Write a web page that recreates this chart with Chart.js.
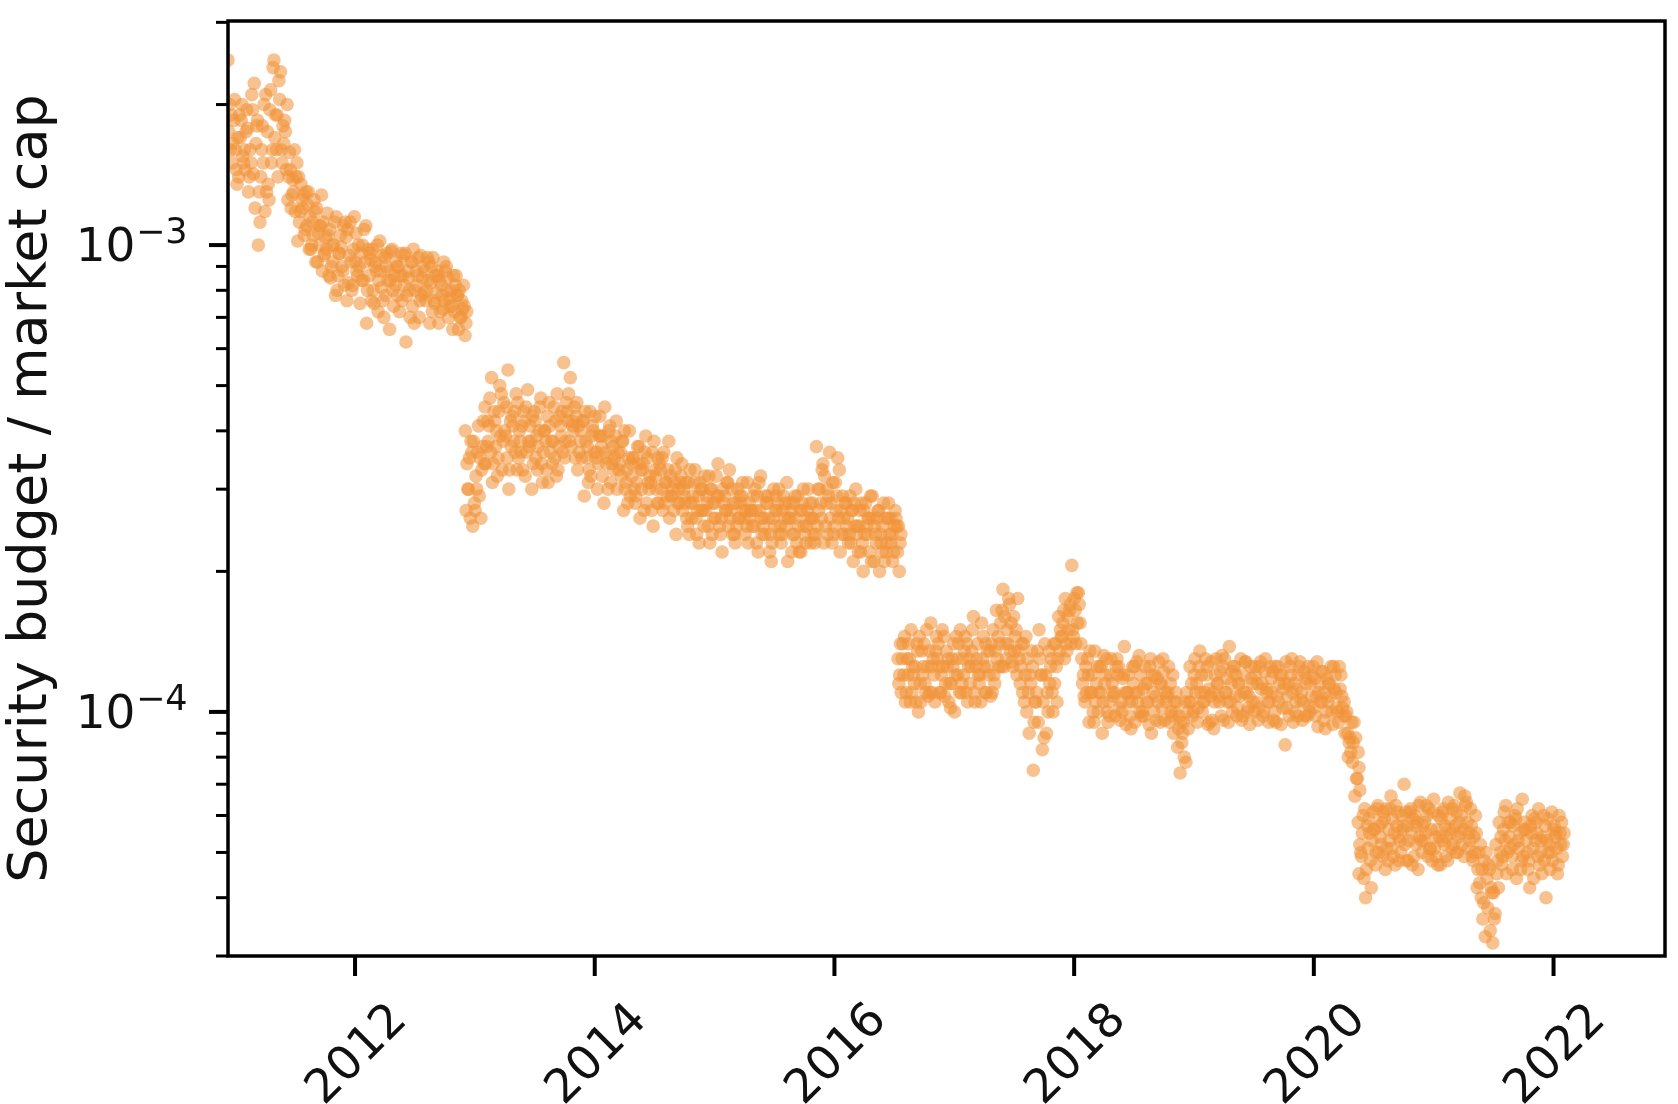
<!DOCTYPE html>
<html>
<head>
<meta charset="utf-8">
<script src="https://cdn.jsdelivr.net/npm/chart.js@4.4.1/dist/chart.umd.min.js"></script>
<style>
  html, body { margin: 0; padding: 0; background: #fff; }
  #wrap { width: 1678px; height: 1104px; position: relative; }
</style>
</head>
<body>
<div id="wrap"><canvas id="budgetChart"></canvas></div>
<script>
const eraStart = [2010.94, 2012.92, 2016.53, 2020.37];
const stepYears = 10 / 365.25;

// security budget / market cap, in units of 1e-5 (four readings per date)
const era1A = [249,190,205,170,185,160,178,150,222,185,140,200,175,215,249,190,235,165,200,145,130,150,118,128,110,115,105,120,100,112,98,108,92,115,96,88,104,95,82,106,90,100,110,86,98,92,84,95,78,88,98,82,90,76,96,85,92,80,94,78,88,84,90,75,86,82,76,85,80,72,78,70,74];
const era1B = [175,150,160,140,200,145,130,210,120,100,160,118,135,150,170,140,160,185,125,120,160,102,135,105,122,98,125,92,110,95,117,85,100,80,105,110,76,112,98,88,75,84,68,96,80,88,102,76,90,66,80,92,72,86,62,80,74,88,70,85,76,92,72,86,68,78,88,70,74,82,66,76,64];
const era1C = [200,165,145,190,155,175,140,195,165,130,180,210,125,160,190,225,150,175,140,128,118,140,125,108,130,100,118,106,128,96,105,90,112,86,99,82,108,92,115,86,96,108,80,93,75,100,88,70,96,84,74,90,86,95,78,70,98,82,76,90,80,68,94,79,84,73,90,77,66,86,80,73,68];
const era1D = [160,185,135,170,150,195,160,142,180,112,150,130,195,240,160,205,180,145,158,138,140,112,120,130,98,112,92,110,88,104,86,100,78,96,90,112,83,80,92,100,84,92,98,76,90,72,81,94,84,97,86,78,96,82,88,92,68,86,95,79,94,83,76,88,72,92,80,74,86,78,70,82,72];

const era2A = [40,30,36,27,41,33,
  45,38,52,42,35,48,40,54,37,44,
  46,36,42,49,38,44,33,47,40,43,36,45,48,41,
  56,44,52,40,
  46,38,42,35,44,40,36,43,39,34,41,37,
  42,34,38,31,40,35,29,37,33,39,30,36,32,28,35,31,38,29,33,30,
  34,28,31,26,33,29,27,32,25,30,28,34,26,29,31,27,24,30,28,26,
  31,27,25,29,32,26,28,24,30,27,25,29,31,26,28,23,27,30,25,28,26,
  37,30,34,28,36,31,27,33,29,
  28,24,27,30,25,23,28,26,29,24,27,22,26,28,24,27,25];
const era2B = [27,35,25,32,29,37,
  34,41,31,37,44,33,39,30,43,36,
  35,41,32,38,30,42,37,34,40,31,38,35,33,39,
  35,42,37,45,
  33,40,29,37,32,36,30,39,28,35,31,33,
  30,36,27,33,29,35,31,26,34,28,32,25,30,34,27,31,26,30,24,28,
  27,31,24,29,26,23,30,27,32,24,26,29,22,27,25,30,23,26,29,24,
  23,27,30,22,26,24,29,21,25,28,23,26,21,27,24,29,22,25,27,23,24,
  25,28,23,30,26,24,29,22,26,
  25,29,21,24,27,20,25,22,26,23,20,25,22,24,21,26,20];
const era2C = [34,26,38,30,35,42,
  37,47,34,40,50,38,45,33,41,48,
  40,33,45,37,43,35,40,31,38,46,34,42,37,44,
  38,48,42,35,
  41,35,44,31,39,43,34,37,45,30,38,35,
  36,32,40,28,34,30,37,33,27,35,31,38,28,33,36,29,32,27,35,31,
  30,26,33,28,24,31,27,29,23,28,32,25,30,27,33,24,28,26,31,27,
  28,25,27,31,24,29,26,23,27,30,24,28,26,22,29,25,27,24,30,26,23,
  30,26,32,24,28,25,35,27,24,
  26,23,28,25,22,27,24,29,21,26,24,28,23,26,22,25,23];
const era2D = [30,38,28,36,26,34,
  42,36,44,32,39,46,35,42,38,33,
  38,44,36,41,34,39,45,36,33,41,38,32,43,36,
  46,38,41,43,
  36,42,38,33,41,35,39,32,36,40,34,39,
  33,38,30,35,32,28,34,30,36,31,27,33,35,30,28,33,29,31,28,32,
  29,25,28,31,27,30,25,28,30,26,29,24,28,31,26,28,25,29,27,25,
  26,29,23,27,25,28,22,26,29,24,27,25,28,24,26,22,28,23,26,28,24,
  27,33,25,29,23,31,26,24,28,
  23,27,25,22,28,24,26,21,25,27,23,21,26,23,25,22,24];

const era3A = [13,11,14.5,12,15,11.5,13.5,10.5,14,12.5,
  15.5,12,13,11,14.5,12.5,10.2,14,13,15,
  12,14,11.5,16,13,12,14.5,11,13.5,15,
  16.5,14,18.3,13,17,12.5,15,
  13,11,14.5,9,12.5,10.5,15,8.3,12,13.5,11,14,
  16,14.5,17.5,15,20.6,16.5,18,
  13,10.5,12,11,13.5,10,12.5,11.5,9.5,13,11,12,10.5,13.8,
  11,9.2,12.5,10.5,12,9.8,11.5,13,10,11.8,9.5,12.2,10.8,11.5,
  9,10.5,7.4,9.5,11,
  12.5,10,11.5,13.5,10.5,12,9.5,11,13,10.5,12.5,11,13.8,10,12,11.5,9.8,12.8,10.8,11.5,
  12,10.2,11.5,13,9.5,11,12.5,10.5,12,8.5,11.5,13,10,12,11,9.8,12.5,10.8,11.8,9.3,12.2,11,10.5,12.5,11.2,10,12,
  10.5,9,8.2,9.5,7.2];
const era3B = [11.5,13,10.5,14,11,12.5,10,13.5,11.5,10.8,
  12.5,10.5,14,12,10.8,13,11.5,10,12,11,
  13.5,10.5,12.5,11,14,10.5,12.5,13.5,10.8,12,
  13,15.5,12.5,15,13.5,16,12,
  11.5,14,10,12,7.5,11,13,10.5,9,11.5,10,12.5,
  13.5,15.5,14,16.5,15,14,17,
  11.5,12.5,9.5,12,10.5,11,9,12,10.5,11.5,9.8,12.5,10,11,
  12,10.5,9.5,11,9.8,12.5,10.5,9,12,10.5,11.5,9.6,11,10,
  10.5,8.4,9.5,8,10,
  10.5,12,9.5,11,10.5,12.5,10.8,9.2,11.5,12.2,9.6,11.8,10.5,12.5,9.8,10.8,12,11,9.4,10.5,
  10.5,12.5,9.8,11,10.5,12.2,9.5,11.5,10.2,12.8,9.8,11,10.5,12.5,9.6,11.8,10.3,12,9.8,11,10.5,9.2,11.5,10,12,9.5,10.8,
  9,8,9.5,6.6,8.2];
const era3C = [12,14,11,13,12.5,10.5,14.5,12,11,13.5,
  11,13.5,12.5,15,11.5,10.5,13,12,14,11.5,
  14.5,12.5,13.5,10.5,12,15.5,11,12.5,14,11.5,
  14.5,12.5,16,14,15.5,13.5,17.5,
  12.5,10.5,13,11.5,9.5,13.5,12,8.8,11,12.5,14,10.5,
  15,16.5,13.5,17,14.5,18,15.5,
  12,11,13.5,10,11.5,12.5,10.5,13,9.8,11,12.5,10.2,11.8,9.4,
  10.5,12.5,11,13.2,10,11.5,9.4,12,10.8,12.8,10.2,11,12.5,9.8,
  10,9.2,8.6,10.5,9.2,
  11.5,13,10.2,12,11,9.4,12.8,10.5,11.5,9.8,13,10.5,11.5,12.5,10.2,13,11,10,12.5,10,
  11.5,12.8,10,11.2,12.5,9.6,10.8,12,11.2,10.2,12.5,9.5,11.2,12.8,10.5,11.5,10,12.5,10.8,11.5,12.2,10,11.5,9.4,11,12.5,10.2,
  9.8,8.6,7.8,8.8,7.6];
const era3D = [14,12,13,10.5,12,14,11.5,12.5,15,11,
  13,14.5,11,12.5,13.5,11.5,12.5,14.5,11,13,
  11,13,15,12.5,11.5,13,14,12,11,13.5,
  12.5,16.5,14,17.5,12.8,14.5,13.5,
  14,12,11,13.5,10.5,9.5,12,14,10,13,11.5,13,
  14.5,13,16,14,17.5,15.5,14,
  10.8,13,11,9.5,12.5,11,13.2,10,12,10.8,13,9.6,12,11,
  9.8,11.5,12.8,10,11.2,10.5,12.5,11,9.6,11.5,13,10.5,9.5,12,
  11,9.8,9,7.8,10.5,
  9.8,11,12.5,10,13,11.2,9.6,12,10.8,13.2,11,9.5,12.2,10.8,11.5,9.6,12.8,10.2,11.8,12.5,
  9.6,11.2,12.2,10.5,11.8,10,12.5,9.4,11.5,10.8,12,11.5,9.8,10.6,12.2,9.8,11.5,10.2,12.8,10.5,9.6,11.8,10.8,12.5,10.2,11.2,9.8,
  10,8.8,8.6,7.2,6.8];

const era4A = [5.8,4.9,6.2,5.1,4.2,5.6,
  6.3,5.2,5.9,4.8,6.6,5.5,6.1,5.0,7.0,5.7,6.2,4.9,5.8,6.4,5.3,6.0,5.1,6.5,5.6,4.7,6.2,5.4,5.9,5.2,6.1,
  6.7,5.6,6.4,5.3,
  4.8,5.5,4.3,3.6,5.0,4.6,3.2,5.2,
  5.8,4.9,6.3,5.4,4.6,5.9,5.1,6.5,5.6,4.8,6.0,5.3,6.2,4.5,5.7,5.0,6.1,5.4,4.7,5.8];
const era4B = [4.5,5.5,4.0,5.9,5.3,4.7,
  5.0,5.8,4.6,5.6,5.1,4.7,5.4,6.0,5.2,4.8,5.5,6.0,4.6,5.3,5.8,4.9,5.6,5.1,4.7,5.9,5.2,4.8,5.5,6.3,5.0,
  5.5,4.9,5.8,6.2,
  5.4,4.2,5.2,3.9,4.4,3.4,4.1,4.5,
  5.0,5.6,4.5,5.1,5.7,4.4,5.5,4.9,5.3,4.2,5.1,5.8,4.7,5.4,4.0,5.2,4.8,5.5,6.0,4.9];
const era4C = [5.2,6.0,4.6,5.5,6.1,5.0,
  5.7,4.9,6.2,5.3,5.9,6.3,4.8,5.6,6.1,5.3,4.7,5.7,6.3,5.0,5.5,6.2,4.8,5.4,6.0,5.3,5.7,6.4,5.1,5.7,5.4,
  6.0,6.6,5.1,5.7,
  5.0,4.6,4.0,4.8,3.8,4.2,3.6,4.8,
  5.4,6.1,5.0,5.8,5.2,6.2,4.6,5.6,5.0,5.7,4.4,5.5,5.0,6.0,5.3,4.6,5.6,5.1,5.5,5.2];
const era4D = [5.0,4.4,5.7,4.8,5.6,6.2,
  5.4,6.1,5.1,6.2,4.9,5.7,5.3,5.7,4.8,6.1,5.9,5.2,5.4,5.7,6.3,5.1,6.1,4.9,5.4,6.1,4.9,5.6,6.2,5.0,5.8,
  5.2,6.3,5.5,4.9,
  6.0,5.0,4.6,3.3,4.7,4.1,3.7,4.2,
  4.7,5.3,5.8,4.9,6.0,5.3,4.8,5.8,4.6,5.5,5.9,4.9,5.3,4.8,5.9,5.0,5.7,4.5,5.2,5.5];

const eraReadings = [
    [era1A, era1B, era1C, era1D],
    [era2A, era2B, era2C, era2D],
    [era3A, era3B, era3C, era3D],
    [era4A, era4B, era4C, era4D],
];

// axes
const xTickYears = [2012, 2014, 2016, 2018, 2020, 2022];
const yTickValues = [3e-5, 4e-5, 5e-5, 6e-5, 7e-5, 8e-5, 9e-5,
  1e-4, 2e-4, 3e-4, 4e-4, 5e-4, 6e-4, 7e-4, 8e-4, 9e-4,
  1e-3, 2e-3, 3e-3];
const yMajorValues = [1e-4, 1e-3];
const yMajorBase = "10";
const yMajorExponents = ["−4", "−3"];

// the four readings of a date are spread over the 10 days
const points = [];
eraReadings.forEach((readings, e) => {
    readings.forEach((vals, k) => {
        vals.forEach((v, i) => {
            points.push({ x: eraStart[e] + (i + k / 4) * stepYears, y: v * 1e-5 });
        });
    });
});

function majorIndex(value) {
    return yMajorValues.findIndex((m) => Math.abs(Math.log10(value) - Math.log10(m)) < 1e-6);
}

// matplotlib-like frame: box spines, long ticks at decades, short minor ticks
const frameAndTicks = {
    id: "frameAndTicks",
    afterDatasetsDraw(chart) {
        const { ctx, chartArea: a, scales } = chart;
        const x = scales.x;
        const y = scales.y;
        ctx.save();
        ctx.strokeStyle = "#000";
        y.ticks.forEach((t) => {
            const py = y.getPixelForValue(t.value);
            const major = majorIndex(t.value) >= 0;
            ctx.lineWidth = major ? 4 : 3;
            const len = major ? 19 : 12;
            ctx.beginPath();
            ctx.moveTo(a.left - len, py);
            ctx.lineTo(a.left, py);
            ctx.stroke();
        });
        x.ticks.forEach((t) => {
            const px = x.getPixelForValue(t.value);
            ctx.lineWidth = 4;
            ctx.beginPath();
            ctx.moveTo(px, a.bottom);
            ctx.lineTo(px, a.bottom + 20);
            ctx.stroke();
        });
        ctx.lineWidth = 3.5;
        ctx.strokeRect(a.left, a.top, a.right - a.left, a.bottom - a.top);

        // decade labels with a raised exponent, like 10^-3
        ctx.fillStyle = "#111";
        ctx.textBaseline = "alphabetic";
        yMajorValues.forEach((v, k) => {
            const py = y.getPixelForValue(v);
            ctx.font = "47px 'DejaVu Sans'";
            ctx.textAlign = "right";
            ctx.fillText(yMajorBase, a.left - 92.5, py + 16);
            ctx.font = "35px 'DejaVu Sans'";
            ctx.textAlign = "left";
            ctx.fillText(yMajorExponents[k], a.left - 92, py - 2);
        });
        ctx.restore();
    },
};

Chart.defaults.font.family = "'DejaVu Sans', sans-serif";
Chart.defaults.color = "#111";

new Chart(document.getElementById("budgetChart"), {
    type: "scatter",
    data: {
        datasets: [
            {
                data: points,
                backgroundColor: "rgba(240, 146, 56, 0.56)",
                borderWidth: 0,
                pointRadius: 6.8,
                clip: 0,
            },
        ],
    },
    options: {
        responsive: true,
        maintainAspectRatio: false,
        animation: false,
        events: [],
        layout: {
            padding: { top: 21, right: 13, left: 0, bottom: 0 },
        },
        plugins: {
            legend: { display: false },
            tooltip: { enabled: false },
        },
        scales: {
            x: {
                type: "linear",
                min: 2010.94,
                max: 2022.93,
                grid: { display: false, drawTicks: false },
                border: { display: false },
                afterBuildTicks: (s) => {
                    s.ticks = xTickYears.map((v) => ({ value: v }));
                },
                afterFit: (s) => {
                    s.height = 148;
                    s.paddingLeft = 0;
                    s.paddingRight = 0;
                },
                ticks: {
                    autoSkip: false,
                    minRotation: 45,
                    maxRotation: 45,
                    labelOffset: 45,
                    padding: 37,
                    font: { size: 47 },
                    callback: (v) => String(v),
                },
            },
            y: {
                type: "logarithmic",
                min: 3e-5,
                max: 3.02e-3,
                grid: { display: false, drawTicks: false },
                border: { display: false },
                afterBuildTicks: (s) => {
                    s.ticks = yTickValues.map((v) => ({ value: v }));
                },
                afterFit: (s) => {
                    s.width = 228;
                    s.paddingTop = 0;
                    s.paddingBottom = 0;
                },
                title: {
                    display: true,
                    text: "Security budget / market cap",
                    font: { size: 54 },
                    padding: { top: 0, bottom: 0 },
                },
                ticks: {
                    display: false,
                    autoSkip: false,
                },
            },
        },
    },
    plugins: [frameAndTicks],
});
</script>
</body>
</html>
